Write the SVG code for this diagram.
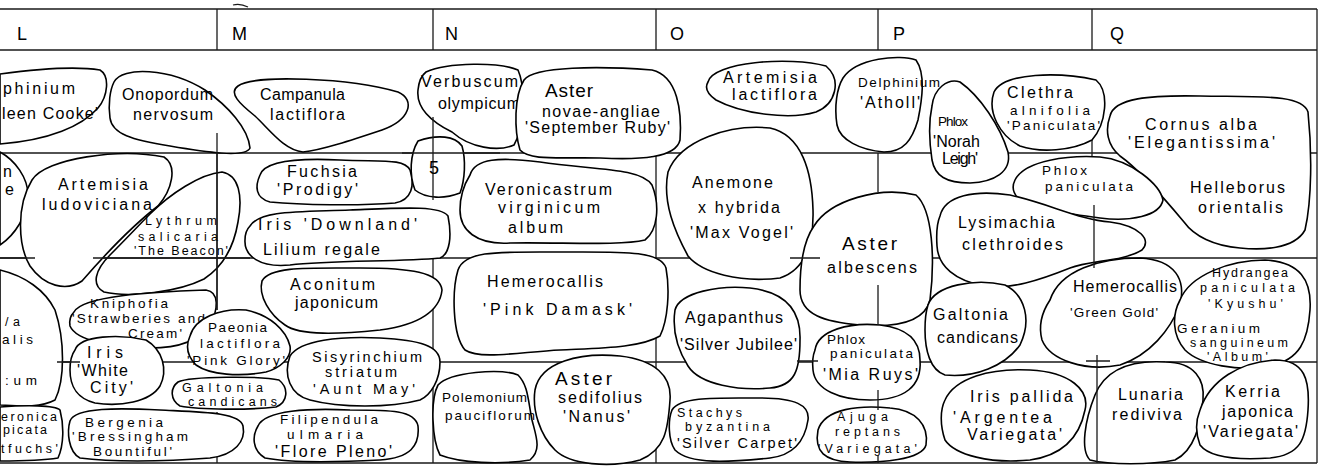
<svg xmlns="http://www.w3.org/2000/svg" width="1322" height="467" viewBox="0 0 1322 467">
<style>
.g{stroke:#1a1a1a;stroke-width:1.3;fill:none}
.b{fill:#fff;stroke:#000;stroke-width:1.6;stroke-linejoin:round}
.o{fill:none;stroke:#000;stroke-width:1.6}
text{font-family:"Liberation Sans",Arial,sans-serif;font-size:16px;fill:#000}
.m{font-size:14.5px}
.s{font-size:13.5px}
.x{font-size:12.5px}
.h{font-size:18px}
.big{font-size:19px}
</style>
<rect width="1322" height="467" fill="#fff"/>
<g id="grid">
<path class="g" d="M0,9H1317M0,50H1317M0,463H1317M1317,9V463M217,9V50M433,9V50M656,9V50M878,9V50M1092,9V50"/>
<path class="g" d="M0,153H1317M0,258H1317M0,362H1317"/>
<path class="g" d="M217,133V310M217,412V463M433,248V463M656,140V463M1092,140V160"/>
<path d="M233,5Q240,3 248,7" class="g"/>
</g>
<g id="n-delphinium-kc"><path class="b" d="M0,74 C30,70 75,66 100,70 C110,76 108,96 98,108 C82,126 50,140 0,144Z"/>
<text x="3" y="94" textLength="72">phinium</text><text x="2" y="119" textLength="96">leen Cooke'</text></g>
<g id="n-onopordum"><path class="b" d="M114,82 C122,66 170,68 205,90 C228,106 248,128 250,148 C246,158 205,152 170,146 C132,140 112,134 110,118 C108,104 110,90 114,82 Z"/>
<text x="122" y="100" textLength="91">Onopordum</text><text x="133" y="120" textLength="80">nervosum</text></g>
<g id="n-campanula"><path class="b" d="M238,86 C255,74 350,78 398,92 C416,100 410,120 382,130 C352,140 322,150 303,152 C284,150 270,130 255,116 C240,104 228,93 238,86 Z"/>
<text x="260" y="100" textLength="85">Campanula</text><text x="270" y="120" textLength="75">lactiflora</text></g>
<g id="n-verbuscum"><path class="b" d="M426,72 C448,62 500,62 518,70 C526,88 524,128 514,145 C498,152 470,148 452,132 C432,122 416,108 418,90 C419,80 422,75 426,72 Z"/>
<text x="421" y="87" textLength="97">Verbuscum</text><text x="438" y="109" textLength="82">olympicum</text></g>
<g id="n-aster-na"><path class="b" d="M524,80 C534,66 600,66 652,70 C678,76 682,112 680,140 C676,158 640,160 600,158 C560,157 530,161 520,150 C514,130 514,96 524,80 Z"/>
<text class="big" x="545" y="97" textLength="48">Aster</text><text x="542" y="117" textLength="118">novae-angliae</text><text x="525" y="133" textLength="145">'September Ruby'</text></g>
<g id="n-artemisia-lac"><path class="b" d="M708,82 C712,62 790,56 826,66 C842,80 836,104 816,112 C790,120 742,114 716,100 C706,93 705,87 708,82 Z"/>
<text x="723" y="83" textLength="94">Artemisia</text><text x="732" y="100" textLength="85">lactiflora</text></g>
<g id="n-delphinium-at"><path class="b" d="M843,78 C856,58 900,54 916,60 C926,74 922,100 918,120 C912,140 904,152 884,152 C860,150 840,140 837,125 C834,106 837,88 843,78 Z"/>
<text class="s" x="858" y="87" textLength="82">Delphinium</text><text x="860" y="108" textLength="60">'Atholl'</text></g>
<g id="n-phlox-nl"><path class="b" d="M932,106 C934,88 948,78 960,82 C980,96 1000,126 1008,152 C1012,172 994,182 970,183 C946,183 935,176 932,160 C929,140 929,120 932,106 Z"/>
<text class="s" x="938" y="126" textLength="30">Phlox</text><text x="933" y="147" textLength="47">'Norah</text><text x="942" y="164" textLength="36">Leigh'</text></g>
<g id="n-clethra"><path class="b" d="M994,92 C1004,72 1060,72 1096,80 C1110,92 1106,124 1092,140 C1072,151 1040,153 1020,146 C1000,136 987,112 994,92 Z"/>
<text x="1007" y="98" textLength="66">Clethra</text><text class="s" x="1010" y="115" textLength="80">alnifolia</text><text class="s" x="1007" y="130" textLength="93">'Paniculata'</text></g>
<g id="n-cornus"><path class="b" d="M1110,116 C1114,98 1150,95 1200,96 C1260,97 1302,94 1308,112 C1312,150 1312,200 1305,230 C1294,250 1260,250 1240,248 C1214,246 1194,236 1184,222 C1164,198 1140,170 1120,156 C1107,145 1105,130 1110,116 Z"/>
<text x="1145" y="130" textLength="112">Cornus alba</text><text x="1128" y="148" textLength="147">'Elegantissima'</text><text x="1190" y="193" textLength="95">Helleborus</text><text x="1198" y="213" textLength="85">orientalis</text></g>
<g id="n-left-a"><path class="b" d="M0,152 C15,160 28,178 28,195 C28,215 15,235 0,245Z"/>
<text x="3" y="177">n</text><text x="5" y="195">e</text></g>
<g id="n-artemisia-lud"><path class="b" d="M32,180 C46,158 120,148 164,157 C178,166 172,190 158,206 C132,226 102,258 82,281 C66,292 44,286 30,266 C18,246 16,206 32,180 Z"/>
<text x="58" y="190" textLength="90">Artemisia</text><text x="42" y="210" textLength="110">ludoviciana</text></g>
<g id="n-lythrum"><path class="o" d="M150,214 C170,194 200,174 222,172 C239,175 243,196 238,222 C234,246 224,266 204,279 C178,292 130,298 104,292 C91,285 95,270 110,255 C125,240 140,224 150,214 Z"/>
<text class="x" x="145" y="225" textLength="72">Lythrum</text><text class="x" x="138" y="241" textLength="80">salicaria</text><text class="x" x="134" y="255" textLength="94">'The Beacon'</text></g>
<g id="n-fuchsia"><path class="b" d="M260,175 C265,160 300,158 340,160 C380,162 404,158 410,170 C415,185 412,200 395,203 C360,206 300,205 270,202 C255,198 255,186 260,175 Z"/>
<text x="287" y="177" textLength="70">Fuchsia</text><text x="277" y="195" textLength="81">'Prodigy'</text></g>
<g id="n-five"><path class="b" d="M418,141 C438,134 455,136 462,146 C466,160 465,180 460,193 C445,199 426,199 415,190 C409,175 410,154 418,141 Z"/>
<path class="g" d="M433,117V200M402,153H500"/>
<text class="h" x="434" y="174" text-anchor="middle">5</text></g>
<g id="n-veronicastrum"><path class="b" d="M470,175 C475,158 500,157 540,162 C590,170 640,167 652,185 C660,205 658,230 645,240 C620,246 560,242 510,243 C476,245 460,230 460,210 C460,195 465,183 470,175 Z"/>
<text x="485" y="195" textLength="127">Veronicastrum</text><text x="498" y="213" textLength="102">virginicum</text><text x="508" y="233" textLength="55">album</text></g>
<g id="n-iris-downland"><path class="b" d="M250,226 C260,210 300,212 350,210 C400,208 440,205 448,216 C452,236 450,254 440,258 C400,262 330,260 290,265 C260,268 244,256 245,240 C245,233 247,229 250,226 Z"/>
<text x="258" y="230" textLength="159">Iris 'Downland'</text><text x="263" y="255" textLength="117">Lilium regale</text></g>
<g id="n-anemone"><path class="b" d="M668,172 C680,140 730,124 770,128 C802,135 812,172 813,210 C814,246 804,270 780,278 C740,283 702,273 688,256 C675,232 662,202 668,172 Z"/>
<text x="692" y="188" textLength="81">Anemone</text><text x="698" y="213" textLength="82">x hybrida</text><text x="690" y="238" textLength="103">'Max Vogel'</text></g>
<g id="n-aster-alb"><path class="b" d="M814,226 C830,200 880,186 916,195 C933,210 935,260 930,300 C925,320 900,328 860,325 C825,322 800,315 800,290 C800,265 804,240 814,226 Z"/>
<text class="big" x="842" y="250" textLength="55">Aster</text><text x="827" y="273" textLength="90">albescens</text></g>
<g id="n-phlox-pan"><path class="b" d="M1015,180 C1025,160 1070,155 1100,157 C1132,160 1160,185 1163,200 C1160,216 1130,222 1100,218 C1070,214 1040,210 1020,200 C1012,193 1012,186 1015,180 Z"/>
<text class="s" x="1042" y="175" textLength="45">Phlox</text><text class="s" x="1045" y="191" textLength="88">paniculata</text></g>
<g id="n-lysimachia"><path class="b" d="M940,216 C945,195 975,190 1010,195 C1050,204 1080,220 1110,222 C1140,226 1152,240 1142,250 C1122,262 1090,260 1070,268 C1040,280 1010,290 985,286 C955,281 938,266 937,246 C936,231 937,223 940,216 Z"/>
<text x="958" y="228" textLength="97">Lysimachia</text><text x="962" y="250" textLength="101">clethroides</text></g>
<g id="n-left-b"><path class="b" d="M0,270 C25,276 45,290 55,310 C65,340 65,380 55,400 C40,408 20,406 0,405Z"/>
<text class="x" x="5" y="326" textLength="15">/a</text><text class="s" x="2" y="344" textLength="31">alis</text><text class="s" x="5" y="385" textLength="32">:um</text></g>
<g id="n-kniphofia"><path class="b" d="M74,312 C82,296 150,292 206,290 C220,292 218,310 210,325 C200,340 180,348 150,348 C110,348 76,340 70,326 C69,320 71,315 74,312 Z"/>
<text class="s" x="90" y="308" textLength="78">Kniphofia</text><text class="s" x="72" y="323" textLength="133">'Strawberies and</text><text class="s" x="128" y="338" textLength="54">Cream'</text></g>
<g id="n-iris-wc"><path class="b" d="M75,350 C80,335 120,334 146,340 C163,350 168,370 160,386 C150,402 120,407 95,403 C76,398 70,386 70,370 C70,361 72,354 75,350 Z"/>
<text x="87" y="358" textLength="36">Iris</text><text x="77" y="376" textLength="51">'White</text><text x="90" y="393" textLength="43">City'</text></g>
<g id="n-paeonia"><path class="b" d="M190,336 C195,318 220,308 246,310 C270,315 286,330 290,346 C292,358 280,368 266,372 C240,377 210,375 196,365 C186,355 186,345 190,336 Z"/>
<text class="s" x="208" y="332" textLength="59">Paeonia</text><text class="s" x="200" y="348" textLength="80">lactiflora</text><text class="s" x="187" y="365" textLength="98">'Pink Glory'</text></g>
<g id="n-galtonia-a"><path class="b" d="M178,382 C190,376 262,376 279,380 C289,388 288,402 276,407 C250,410 200,410 180,406 C170,400 170,388 178,382 Z"/>
<text class="x" x="182" y="392" textLength="81">Galtonia</text><text class="x" x="188" y="406" textLength="89">candicans</text></g>
<g id="n-sisyrinchium"><path class="b" d="M290,356 C300,340 340,336 380,338 C420,340 440,346 440,362 C440,380 431,395 420,400 C390,408 340,408 310,400 C290,395 283,375 290,356 Z"/>
<text class="m" x="312" y="362" textLength="110">Sisyrinchium</text><text class="m" x="325" y="377" textLength="72">striatum</text><text class="m" x="313" y="394" textLength="102">'Aunt May'</text></g>
<g id="n-veronica"><path class="b" d="M0,407 C25,405 55,405 60,410 C64,425 64,445 58,458 C40,461 20,461 0,461Z"/>
<text class="x" x="1" y="421" textLength="56">eronica</text><text class="x" x="3" y="434" textLength="44">picata</text><text class="x" x="1" y="453" textLength="57">tfuchs'</text></g>
<g id="n-bergenia"><path class="b" d="M70,421 C75,407 120,408 160,410 C200,412 240,412 243,426 C246,441 235,455 210,458 C160,462 110,462 80,458 C68,452 67,431 70,421 Z"/>
<text class="s" x="85" y="427" textLength="78">Bergenia</text><text class="s" x="72" y="441" textLength="116">'Bressingham</text><text class="s" x="93" y="456" textLength="79">Bountiful'</text></g>
<g id="n-filipendula"><path class="b" d="M258,426 C265,410 310,408 350,410 C390,410 415,410 418,426 C420,446 410,458 380,460 C340,462 290,463 265,458 C252,450 252,436 258,426 Z"/>
<text class="s" x="280" y="424" textLength="98">Filipendula</text><text class="s" x="287" y="439" textLength="76">ulmaria</text><text x="275" y="457" textLength="117">'Flore Pleno'</text></g>
<g id="n-aconitum"><path class="b" d="M262,281 C270,266 310,268 360,268 C410,268 440,272 442,290 C440,310 420,325 380,330 C340,334 300,336 285,325 C270,315 258,296 262,281 Z"/>
<text x="290" y="290" textLength="85">Aconitum</text><text x="295" y="308" textLength="83">japonicum</text></g>
<g id="n-hemerocallis-pd"><path class="b" d="M458,270 C465,250 500,252 560,252 C620,252 660,250 666,268 C670,290 668,320 660,336 C640,348 600,348 560,350 C520,352 480,360 465,350 C452,335 452,290 458,270 Z"/>
<text x="487" y="287" textLength="116">Hemerocallis</text><text x="483" y="315" textLength="149">'Pink Damask'</text></g>
<g id="n-agapanthus"><path class="b" d="M675,310 C680,292 720,285 750,288 C786,292 801,310 800,340 C800,370 795,386 770,388 C740,391 700,385 688,366 C678,350 672,330 675,310 Z"/>
<text x="685" y="323" textLength="98">Agapanthus</text><text x="680" y="350" textLength="117">'Silver Jubilee'</text></g>
<g id="n-phlox-mr"><path class="b" d="M815,350 C818,330 850,322 880,325 C906,328 920,340 920,360 C922,386 905,400 870,400 C840,400 815,390 813,370 C812,361 813,355 815,350 Z"/>
<text class="s" x="827" y="344" textLength="38">Phlox</text><text class="s" x="830" y="358" textLength="83">paniculata</text><text x="823" y="380" textLength="95">'Mia Ruys'</text></g>
<g id="n-ajuga"><path class="b" d="M818,430 C825,408 860,405 890,408 C916,410 929,425 926,445 C922,460 880,463 850,462 C825,461 814,452 818,430 Z"/>
<text class="x" x="837" y="421" textLength="51">Ajuga</text><text class="x" x="835" y="436" textLength="65">reptans</text><text class="x" x="818" y="453" textLength="99">'Variegata'</text></g>
<g id="n-stachys"><path class="b" d="M672,410 C680,396 720,398 760,398 C795,398 810,405 808,420 C805,440 795,455 770,458 C730,462 690,465 675,450 C668,440 668,420 672,410 Z"/>
<text class="x" x="677" y="417" textLength="65">Stachys</text><text class="x" x="685" y="431" textLength="85">byzantina</text><text class="m" x="677" y="448" textLength="120">'Silver Carpet'</text></g>
<g id="n-polemonium"><path class="b" d="M438,385 C450,372 500,368 518,375 C528,385 528,400 532,420 C536,436 542,450 530,460 C500,465 460,463 440,455 C432,440 430,400 438,385 Z"/>
<text class="s" x="442" y="402" textLength="85">Polemonium</text><text class="s" x="445" y="420" textLength="90">pauciflorum</text></g>
<g id="n-aster-sed"><path class="b" d="M535,390 C540,362 580,352 620,356 C655,360 672,376 670,400 C668,430 665,450 640,460 C610,468 570,465 555,450 C540,435 532,410 535,390 Z"/>
<text class="big" x="555" y="385" textLength="57">Aster</text><text x="558" y="403" textLength="84">sedifolius</text><text x="563" y="422" textLength="67">'Nanus'</text></g>
<g id="n-galtonia-b"><path class="b" d="M928,305 C935,285 975,278 1005,285 C1025,295 1032,320 1020,345 C1005,366 975,378 945,375 C930,370 925,350 925,330 C925,320 926,311 928,305 Z"/>
<text x="933" y="320" textLength="75">Galtonia</text><text x="937" y="343" textLength="81">candicans</text></g>
<g id="n-hemerocallis-gg"><path class="b" d="M1050,300 C1060,270 1100,258 1140,258 C1176,260 1186,280 1180,305 C1170,330 1150,355 1120,365 C1085,372 1050,360 1042,340 C1038,325 1042,312 1050,300 Z"/>
<text x="1073" y="292" textLength="104">Hemerocallis</text><text class="s" x="1070" y="317" textLength="88">'Green Gold'</text></g>
<g id="n-hydrangea"><path class="b" d="M1180,300 C1190,275 1230,260 1265,260 C1300,262 1312,280 1310,310 C1308,340 1300,360 1270,366 C1240,372 1200,365 1185,350 C1172,335 1172,315 1180,300 Z"/>
<text class="x" x="1212" y="277" textLength="76">Hydrangea</text><text class="x" x="1200" y="292" textLength="95">paniculata</text><text class="x" x="1208" y="308" textLength="75">'Kyushu'</text><text class="s" x="1177" y="333" textLength="83">Geranium</text><text class="x" x="1190" y="347" textLength="98">sanguineum</text><text class="x" x="1207" y="361" textLength="61">'Album'</text></g>
<g id="n-iris-pallida"><path class="b" d="M945,400 C955,378 990,368 1030,370 C1070,372 1090,390 1085,410 C1080,435 1065,455 1030,460 C990,464 955,455 945,440 C940,425 940,410 945,400 Z"/>
<text x="970" y="402" textLength="103">Iris pallida</text><text x="953" y="423" textLength="99">'Argentea</text><text x="967" y="440" textLength="95">Variegata'</text></g>
<g id="n-lunaria"><path class="b" d="M1095,395 C1105,370 1130,360 1165,362 C1195,362 1205,380 1203,400 C1200,425 1195,450 1175,460 C1150,465 1110,465 1090,460 C1080,450 1085,420 1095,395 Z"/>
<path class="g" d="M1097,355V463M1086,361H1110"/>
<text x="1118" y="400" textLength="65">Lunaria</text><text x="1112" y="420" textLength="70">rediviva</text></g>
<g id="n-kerria"><path class="b" d="M1200,410 C1210,380 1240,362 1275,360 C1305,360 1310,380 1308,410 C1306,440 1300,455 1270,458 C1240,460 1210,458 1200,445 C1195,432 1196,420 1200,410 Z"/>
<text x="1225" y="397" textLength="55">Kerria</text><text x="1222" y="417" textLength="71">japonica</text><text x="1203" y="437" textLength="95">'Variegata'</text></g>
<g id="grid-over">
<path class="g" d="M217,133V310M0,258H35M93,258H250M878,153V192M878,285V325M878,390V410M878,455V463M1094,205V268M57,362H80M790,258H820M797,361H818"/>
</g>
<g id="header">
<text class="h" x="17" y="40">L</text><text class="h" x="232" y="40">M</text><text class="h" x="445" y="40">N</text><text class="h" x="670" y="40">O</text><text class="h" x="893" y="40">P</text><text class="h" x="1110" y="40">Q</text>
</g>
</svg>
